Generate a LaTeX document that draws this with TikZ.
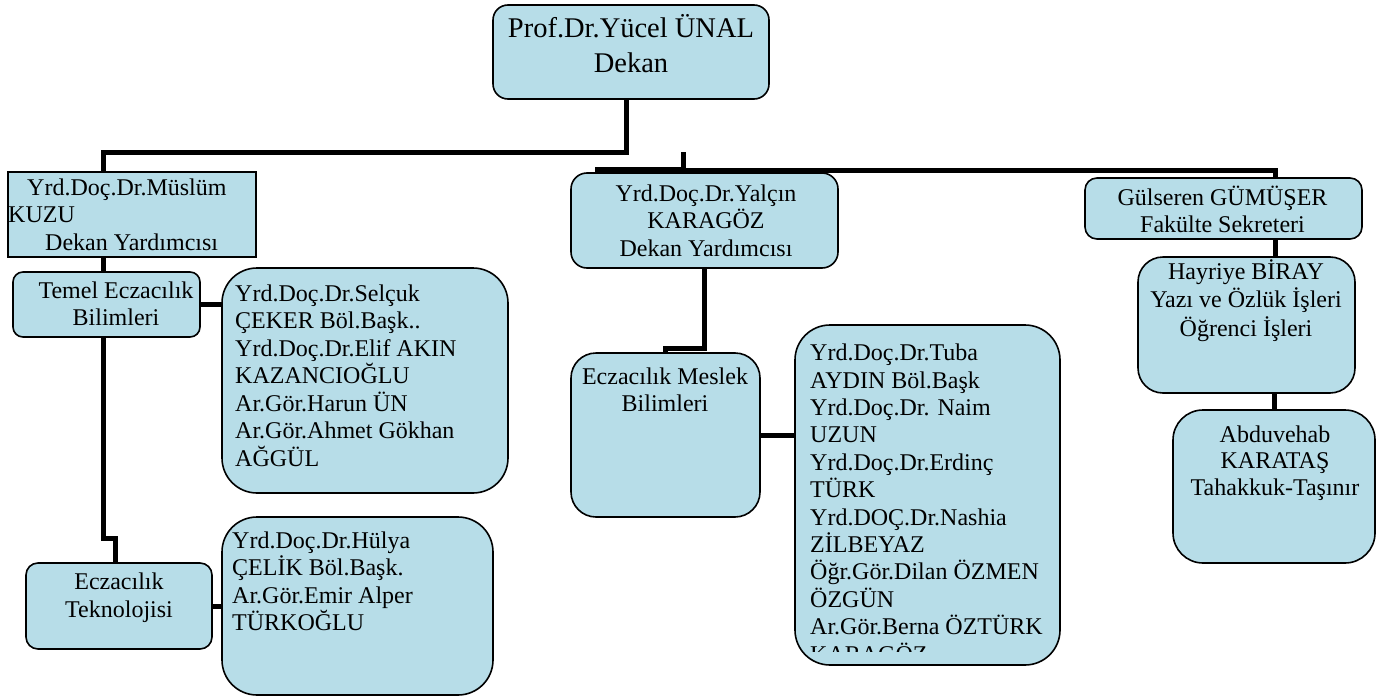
\documentclass[tikz,border=0pt]{standalone}
\usepackage{fontspec}
\setmainfont{Liberation Serif}
\usetikzlibrary{backgrounds}
\definecolor{boxfill}{RGB}{183,221,232}
\begin{document}
\begin{tikzpicture}[x=1pt,y=-1pt,
  box/.style={draw=black, line width=1.6pt, fill=boxfill, inner sep=0pt},
  conn/.style={line width=5pt, line cap=butt, line join=miter},
  txt/.style={font=\fontsize{24}{27.5}\selectfont, inner sep=0pt, align=center},
  ltxt/.style={font=\fontsize{24}{27.5}\selectfont, inner sep=0pt, align=left},
  ]
\useasboundingbox (0,0) rectangle (1384,696);

% boxes
\node[box, rounded corners=15pt, minimum width=276pt, minimum height=94pt] (dean) at (631,52) {};
\node[box, minimum width=248pt, minimum height=85pt] (muslum) at (132,214.5) {};
\node[box, rounded corners=10pt, minimum width=187pt, minimum height=65pt] (temel) at (106.5,304.5) {};
\node[box, rounded corners=35pt, minimum width=286pt, minimum height=225pt] (selcuk) at (365,380.5) {};
\node[box, rounded corners=12pt, minimum width=186pt, minimum height=86pt] (teknoloji) at (119,606) {};
\node[box, rounded corners=35pt, minimum width=271pt, minimum height=178pt] (hulya) at (357.5,606) {};
\node[box, rounded corners=16pt, minimum width=267pt, minimum height=95pt] (yalcin) at (704.5,220.5) {};
\node[box, rounded corners=25pt, minimum width=189pt, minimum height=164pt] (meslek) at (665.5,435) {};
\node[box, rounded corners=35pt, minimum width=265pt, minimum height=340pt] (tuba) at (927.5,495) {};
\node[box, rounded corners=12pt, minimum width=277pt, minimum height=61pt] (gulseren) at (1223.5,208.5) {};
\node[box, rounded corners=25pt, minimum width=217pt, minimum height=136pt] (hayriye) at (1246.5,325) {};
\node[box, rounded corners=30pt, minimum width=202pt, minimum height=153pt] (abdu) at (1274,486.5) {};

% texts (anchor = baseline of the last line)
\node[txt, font=\fontsize{28.5}{35}\selectfont, anchor=base] (tdean) at (631,72) {Prof.Dr.Yücel ÜNAL\\Dekan};
\node[ltxt, anchor=base west] (tmuslum) at (8,250) {\hspace*{19pt}Yrd.Doç.Dr.Müslüm\\KUZU\\\hspace*{37pt}Dekan Yardımcısı};
\node[txt, anchor=base] (ttemel) at (116,325.5) {Temel Eczacılık\\Bilimleri};
\node[ltxt, anchor=base west] (tselcuk) at (235,466) {Yrd.Doç.Dr.Selçuk\\ÇEKER Böl.Başk..\\Yrd.Doç.Dr.Elif AKIN\\KAZANCIOĞLU\\Ar.Gör.Harun ÜN\\Ar.Gör.Ahmet Gökhan\\AĞGÜL};
\node[txt, anchor=base] (tteknoloji) at (119,617) {Eczacılık\\Teknolojisi};
\node[ltxt, anchor=base west] (thulya) at (232,630.5) {Yrd.Doç.Dr.Hülya\\ÇELİK Böl.Başk.\\Ar.Gör.Emir Alper\\TÜRKOĞLU};
\node[txt, anchor=base] (tyalcin) at (706,256) {Yrd.Doç.Dr.Yalçın\\KARAGÖZ\\Dekan Yardımcısı};
\node[txt, anchor=base] (tmeslek) at (665,411.5) {Eczacılık Meslek\\Bilimleri};
\begin{scope}
\clip (795,325) rectangle (1060,651);
\node[ltxt, font=\fontsize{24}{27.4}\selectfont, anchor=base west] (ttuba) at (810,662) {Yrd.Doç.Dr.Tuba\\AYDIN Böl.Başk\\Yrd.Doç.Dr. Naim\\UZUN\\Yrd.Doç.Dr.Erdinç\\TÜRK\\Yrd.DOÇ.Dr.Nashia\\ZİLBEYAZ\\Öğr.Gör.Dilan ÖZMEN\\ÖZGÜN\\Ar.Gör.Berna ÖZTÜRK\\KARAGÖZ};
\end{scope}
\node[txt, anchor=base] (tgulseren) at (1222.5,232.5) {Gülseren GÜMÜŞER\\Fakülte Sekreteri};
\node[txt, anchor=base, font=\fontsize{24}{28.5}\selectfont] (thayriye) at (1246,336) {Hayriye BİRAY\\Yazı ve Özlük İşleri\\Öğrenci İşleri};
\node[txt, anchor=base, font=\fontsize{24}{26.5}\selectfont] (tabdu) at (1275,495) {Abduvehab\\KARATAŞ\\Tahakkuk-Taşınır};

% connectors
\coordinate (stubtop) at (683,152);
\coordinate (barwest) at (595,170);
\begin{scope}[on background layer]
\draw[conn] ([xshift=-5pt]dean.south) -- ++(0,53) -| ([xshift=-29pt]muslum.north);
\draw[conn] (stubtop) -- (stubtop |- barwest);
\draw[conn, line width=7pt] (barwest) -- (stubtop |- barwest);
\draw[conn] (stubtop |- barwest) -| ([xshift=51.5pt]gulseren.north);
\draw[conn] ([xshift=-29pt]muslum.south) -- ([xshift=-3.5pt]temel.north);
\draw[conn] (temel.east) -- (temel.east -| selcuk.west);
\draw[conn] ([xshift=-3.5pt]temel.south) -- ++(0,201) -| ([xshift=-4pt]teknoloji.north);
\draw[conn] (teknoloji.east) -- (hulya.west);
\draw[conn] ([xshift=-0.5pt]yalcin.south) -- ++(0,80) -| (meslek.north);
\draw[conn] (meslek.east) -- (meslek.east -| tuba.west);
\draw[conn] ([xshift=51.5pt]gulseren.south) -- ([xshift=28.5pt]hayriye.north);
\draw[conn] (hayriye.south -| abdu.north) -- (abdu.north);
\end{scope}
\end{tikzpicture}
\end{document}
